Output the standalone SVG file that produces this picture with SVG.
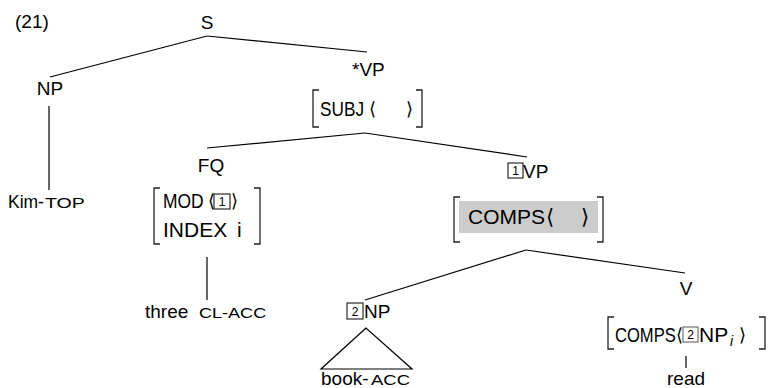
<svg xmlns="http://www.w3.org/2000/svg" width="770" height="388" viewBox="0 0 770 388">
<style>
text{font-family:"Liberation Sans",Arial,sans-serif;fill:#000}
.lab{font-size:19px}
.avm{font-size:21px}
.ang{font-size:18px}
.sc{font-size:14px}
.edge{stroke:#000;stroke-width:1.2;fill:none}
.br{stroke:#222;stroke-width:1.3;fill:none}
.tag{stroke:#000;stroke-width:1;fill:#fff}
.tagt{font-size:12px}
</style>
<rect width="770" height="388" fill="#fff"/>
<g id="connectors">
<line class="edge" x1="207" y1="36" x2="50" y2="77"/>
<line class="edge" x1="207" y1="36" x2="367" y2="52"/>
<line class="edge" x1="49" y1="106" x2="49" y2="190"/>
<line class="edge" x1="365" y1="133" x2="207" y2="148"/>
<line class="edge" x1="365" y1="133" x2="527" y2="157"/>
<line class="edge" x1="207" y1="257" x2="207" y2="300"/>
<line class="edge" x1="526" y1="250" x2="365" y2="300"/>
<line class="edge" x1="526" y1="250" x2="685" y2="273"/>
<polygon class="edge" points="366,328 321,369 412,369"/>
<line class="edge" x1="686" y1="356" x2="686" y2="368"/>
</g>
<g id="label21"><text class="lab" x="15" y="28" font-size="20px">(21)</text></g>
<g id="node-S"><text class="lab" x="207" y="29" text-anchor="middle">S</text></g>
<g id="node-NP"><text class="lab" x="50" y="95" text-anchor="middle">NP</text></g>
<g id="leaf-Kim">
<text class="lab" transform="translate(8,208) scale(0.92,1)">Kim-</text>
<text class="sc" transform="translate(45,208) scale(1.4,1)">TOP</text>
</g>
<g id="node-VP">
<text class="lab" x="352" y="76">*VP</text>
<path class="br" d="M319,90 H313 V127 H319"/>
<path class="br" d="M416,90 H422 V127 H416"/>
<text class="avm" transform="translate(320,116) scale(0.82,1)">SUBJ</text>
<text class="ang" x="369" y="115">⟨</text>
<text class="ang" x="406" y="115">⟩</text>
</g>
<g id="node-FQ">
<text class="lab" x="211" y="172" text-anchor="middle">FQ</text>
<path class="br" d="M160,188 H154 V244 H160"/>
<path class="br" d="M254,188 H260 V244 H254"/>
<text class="avm" transform="translate(163,208) scale(0.83,1)">MOD</text>
<text class="ang" x="208" y="207">⟨</text>
<text class="ang" x="231" y="207">⟩</text>
<rect class="tag" x="214" y="194" width="16" height="15"/>
<text class="tagt" x="222" y="206" text-anchor="middle">1</text>
<text class="avm" x="163" y="237">INDEX<tspan x="237">i</tspan></text>
</g>
<g id="leaf-three">
<text class="lab" x="145" y="318">three</text>
<text class="sc" transform="translate(199,318) scale(1.29,1)">CL-ACC</text>
</g>
<g id="node-VP1">
<rect class="tag" x="508" y="163" width="15" height="15"/>
<text class="tagt" x="515.5" y="175" text-anchor="middle">1</text>
<text class="lab" x="523" y="178">VP</text>
<path class="br" d="M460,197 H454 V242 H460"/>
<path class="br" d="M597,197 H603 V242 H597"/>
<rect x="459" y="201" width="139" height="32" fill="#cccccc"/>
<text class="avm" x="468" y="224">COMPS</text>
<text class="avm" x="546" y="224">⟨</text>
<text class="avm" x="581" y="224">⟩</text>
</g>
<g id="node-NP2">
<rect class="tag" x="347" y="303" width="16" height="16"/>
<text class="tagt" x="355" y="316" text-anchor="middle">2</text>
<text class="lab" x="364" y="318">NP</text>
</g>
<g id="leaf-book">
<text class="lab" x="321" y="385" font-size="20px">book-</text>
<text class="sc" transform="translate(371,385) scale(1.32,1)">ACC</text>
</g>
<g id="node-V">
<text class="lab" x="686" y="295" text-anchor="middle">V</text>
<path class="br" d="M614,317 H608 V349 H614"/>
<path class="br" d="M759,317 H765 V349 H759"/>
<text class="avm" transform="translate(615,342) scale(0.79,1)">COMPS</text>
<text class="ang" x="676" y="341">⟨</text>
<rect x="683" y="327" width="15" height="15" fill="#fff" stroke="#555" stroke-width="1"/>
<text class="tagt" x="690.5" y="339" text-anchor="middle">2</text>
<text class="avm" x="699" y="342">NP</text>
<text x="730" y="346" font-style="italic" font-size="14px">i</text>
<text class="ang" x="739" y="341">⟩</text>
</g>
<g id="leaf-read"><text class="lab" x="686" y="385" text-anchor="middle">read</text></g>
</svg>
